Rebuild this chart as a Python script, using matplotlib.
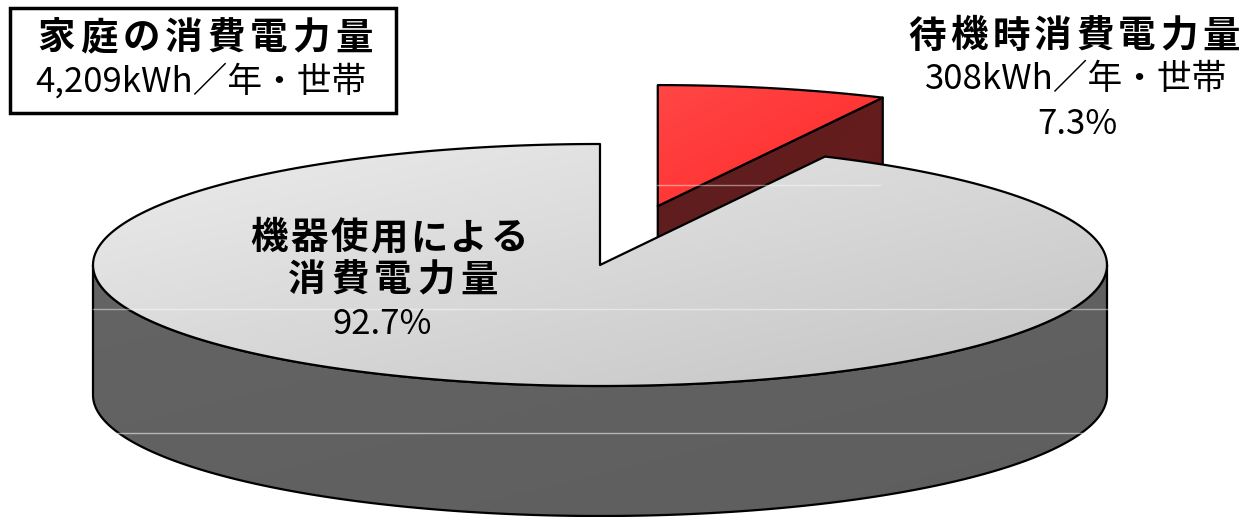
import numpy as np
import matplotlib
matplotlib.use('Agg')
import matplotlib.pyplot as plt
from matplotlib.patches import Polygon, Rectangle
from matplotlib.colors import LinearSegmentedColormap

plt.rcParams['font.family'] = ['Noto Sans CJK JP', 'DejaVu Sans']

# ---- data ----
title_main = '家庭の消費電力量'
title_sub = '4,209kWh／年・世帯'
categories = ['待機時消費電力量', '機器使用による\n消費電力量']
values_kwh = [308, 3901]
sub_labels = ['308kWh／年・世帯', '']
pct_labels = ['7.3%', '92.7%']

W, H = 1252, 517
fig = plt.figure(figsize=(W / 100, H / 100), dpi=100)
ax = fig.add_axes([0, 0, 1, 1])
ax.set_xlim(0, W)
ax.set_ylim(H, 0)
ax.axis('off')

# ---- 3D pie geometry ----
cx, cy = 600, 265
rx, ry = 507, 121
depth = 130
explode = [0.5, 0.0]

fracs = np.array(values_kwh, dtype=float) / np.sum(values_kwh)
edges = np.concatenate([[0], np.cumsum(fracs) * 360])


def rim(theta, ox, oy, dz=0):
    t = np.radians(theta)
    return np.column_stack([ox + rx * np.sin(t), oy - ry * np.cos(t) + dz])


def grad_fill(poly_xy, c1, c2, z, direction=(1, 1)):
    poly = Polygon(poly_xy, closed=True, facecolor='none', edgecolor='none', zorder=z)
    ax.add_patch(poly)
    x0, y0 = poly_xy.min(axis=0)
    x1, y1 = poly_xy.max(axis=0)
    n = 200
    gx, gy = np.meshgrid(np.linspace(0, 1, n), np.linspace(0, 1, n))
    g = (gx * direction[0] + gy * direction[1]) / (abs(direction[0]) + abs(direction[1]))
    cmap = LinearSegmentedColormap.from_list('g', [c1, c2])
    im = ax.imshow(g, cmap=cmap, extent=(x0, x1, y1, y0), origin='upper',
                   aspect='auto', zorder=z, interpolation='bilinear')
    im.set_clip_path(poly)
    ax.add_patch(Polygon(poly_xy, closed=True, facecolor='none', edgecolor='black',
                         linewidth=1.6, joinstyle='round', zorder=z + 0.1))


# red (standby) slice, exploded
a0, a1 = edges[0], edges[1]
mid = np.radians((a0 + a1) / 2)
ox = cx + explode[0] * rx * np.sin(mid)
oy = cy - explode[0] * ry * np.cos(mid)
p_rim = rim(np.array([a1]), ox, oy)[0]
side = np.array([[ox, oy], p_rim, p_rim + [0, depth], [ox, oy + depth]])
grad_fill(side, '#5a1f1f', '#6e1a1a', 1)
top = np.vstack([[ox, oy], rim(np.linspace(a0, a1, 60), ox, oy)])
grad_fill(top, '#ff4646', '#ff2828', 2)

# grey (appliance use) slice
b0, b1 = edges[1], edges[2]
th_front = np.linspace(90, 270, 200)
wall = np.vstack([rim(th_front, cx, cy), rim(th_front[::-1], cx, cy, depth)])
grad_fill(wall, '#646464', '#5e5e5e', 3)
top2 = np.vstack([[cx, cy], rim(np.linspace(b0, b1, 300), cx, cy)])
grad_fill(top2, '#ececec', '#c4c4c4', 4)

# faint horizontal grid artefacts
for y, xa, xb, a in [(309, cx - rx, cx + rx, 0.45), (433, cx - rx, cx + rx, 0.55),
                     (185, 657, 880, 0.45)]:
    ax.plot([xa, xb], [y, y], color='white', alpha=a, linewidth=1.0, zorder=5)


def spaced(xc, y, s, pitch, **kw):
    n = len(s)
    for i, ch in enumerate(s):
        ax.text(xc + (i - (n - 1) / 2) * pitch, y, ch, ha='center', va='center',
                zorder=7, **kw)


# ---- texts ----
ax.add_patch(Rectangle((10, 8), 386, 105, facecolor='white', edgecolor='black',
                       linewidth=2.5, zorder=6))
spaced(205, 38, title_main, 42.5, fontsize=27, fontweight='bold')
ax.text(201, 82, title_sub, ha='center', va='center', fontsize=25, zorder=7)

spaced(1074, 36, categories[0], 42.0, fontsize=27, fontweight='bold')
ax.text(1076, 80, sub_labels[0], ha='center', va='center', fontsize=25, zorder=7)
ax.text(1077, 124, pct_labels[0], ha='center', va='center', fontsize=25, zorder=7)

l1, l2 = categories[1].split('\n')
spaced(389, 238, l1, 40.0, fontsize=27, fontweight='bold')
spaced(393, 280, l2, 43.0, fontsize=27, fontweight='bold')
ax.text(382, 324, pct_labels[1], ha='center', va='center', fontsize=25, zorder=7)

fig.savefig('out.png', dpi=100)
